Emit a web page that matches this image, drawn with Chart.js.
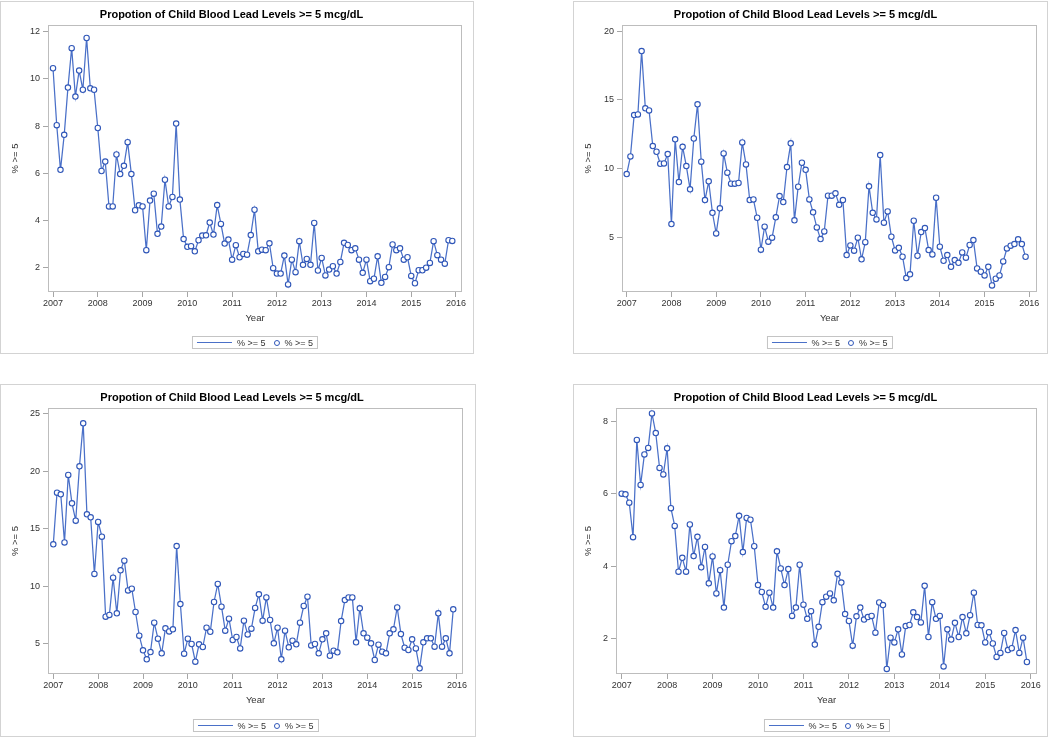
<!DOCTYPE html>
<html lang="en">
<head>
<meta charset="UTF-8">
<title>Propotion of Child Blood Lead Levels</title>
<script src="https://cdn.jsdelivr.net/npm/chart.js"></script>
<style>
    body { margin: 0; background: #fff; width: 1050px; height: 739px; position: relative; overflow: hidden;
           font-family: "Liberation Sans", Arial, sans-serif; }
    .panel { position: absolute; border: 1px solid #d3d3d3; }
    .panel canvas { position: absolute; left: 0; top: 0; }
    .legend { position: absolute; height: 11px; border: 1px solid #c4c4c4; font-size: 9px; color: #333;
              display: flex; align-items: center; padding: 0 4px; white-space: nowrap; transform: translateX(-50%); }
    .lg-line { display: inline-block; width: 35px; height: 1px; background: #4a70c8; margin-right: 5px; }
    .lg-dot { display: inline-block; width: 4px; height: 4px; border: 1.2px solid #2f56b8; border-radius: 50%;
              margin: 0 5px 0 8px; }
</style>
</head>
<body>
<div class="panel" id="p1"><canvas></canvas></div>
<div class="panel" id="p2"><canvas></canvas></div>
<div class="panel" id="p3"><canvas></canvas></div>
<div class="panel" id="p4"><canvas></canvas></div>

<script>
// monthly values, Jan 2007 .. Dec 2015
var startYear = 2007;
var yearTicks = [2007, 2008, 2009, 2010, 2011, 2012, 2013, 2014, 2015, 2016];

var pct1 = [
    10.45, 8.04, 6.15, 7.63, 9.63, 11.3, 9.25, 10.35, 9.54, 11.73, 9.6, 9.54,
    7.92, 6.1, 6.5, 4.6, 4.6, 6.8, 5.97, 6.32, 7.32, 5.97, 4.44, 4.65,
    4.6, 2.75, 4.85, 5.14, 3.44, 3.75, 5.73, 4.6, 5.0, 8.11, 4.89, 3.22,
    2.89, 2.92, 2.7, 3.17, 3.37, 3.38, 3.92, 3.41, 4.66, 3.86, 3.03, 3.2,
    2.35, 2.96, 2.45, 2.59, 2.56, 3.39, 4.46, 2.7, 2.77, 2.75, 3.04, 1.99,
    1.76, 1.76, 2.52, 1.3, 2.35, 1.82, 3.13, 2.13, 2.38, 2.13, 3.9, 1.89,
    2.42, 1.68, 1.93, 2.07, 1.76, 2.25, 3.06, 2.97, 2.75, 2.83, 2.35, 1.79,
    2.35, 1.44, 1.54, 2.49, 1.37, 1.62, 2.03, 2.99, 2.75, 2.83, 2.35, 2.45,
    1.66, 1.35, 1.9, 1.9, 2.01, 2.21, 3.13, 2.54, 2.35, 2.18, 3.17, 3.14
];
var pct2 = [
    9.62, 10.9, 13.9, 13.95, 18.55, 14.39, 14.24, 11.65, 11.24, 10.37, 10.39, 11.07,
    5.99, 12.14, 9.04, 11.6, 10.2, 8.51, 12.2, 14.68, 10.52, 7.73, 9.09, 6.81,
    5.31, 7.13, 11.12, 9.72, 8.92, 8.92, 8.97, 11.92, 10.32, 7.73, 7.78, 6.45,
    4.13, 5.8, 4.71, 5.0, 6.48, 8.02, 7.59, 10.13, 11.85, 6.26, 8.7, 10.44,
    9.93, 7.78, 6.84, 5.75, 4.9, 5.46, 8.05, 8.05, 8.22, 7.39, 7.73, 3.74,
    4.44, 4.06, 5.0, 3.43, 4.68, 8.73, 6.81, 6.33, 11.0, 6.09, 6.91, 5.07,
    4.08, 4.27, 3.62, 2.07, 2.34, 6.23, 3.69, 5.41, 5.7, 4.1, 3.79, 7.9,
    4.35, 3.33, 3.74, 2.89, 3.38, 3.18, 3.93, 3.55, 4.47, 4.83, 2.77, 2.53,
    2.26, 2.89, 1.54, 2.02, 2.26, 3.28, 4.22, 4.42, 4.54, 4.88, 4.54, 3.62
];
var pct3 = [
    13.65, 18.15, 18.0, 13.82, 19.69, 17.22, 15.71, 20.44, 24.19, 16.26, 16.0, 11.07,
    15.6, 14.32, 7.35, 7.5, 10.75, 7.64, 11.39, 12.23, 9.64, 9.79, 7.76, 5.7,
    4.42, 3.64, 4.27, 6.83, 5.44, 4.16, 6.34, 6.07, 6.25, 13.5, 8.45, 4.13,
    5.44, 4.97, 3.43, 4.94, 4.71, 6.39, 6.04, 8.63, 10.2, 8.22, 6.13, 7.18,
    5.32, 5.58, 4.59, 7.0, 5.81, 6.31, 8.11, 9.3, 7.0, 9.03, 7.06, 5.03,
    6.39, 3.64, 6.13, 4.68, 5.26, 4.94, 6.83, 8.28, 9.09, 4.85, 4.97, 4.16,
    5.38, 5.9, 3.95, 4.39, 4.25, 6.97, 8.8, 9.03, 9.03, 5.12, 8.08, 5.9,
    5.52, 5.03, 3.58, 4.91, 4.3, 4.16, 5.9, 6.25, 8.16, 5.84, 4.65, 4.45,
    5.38, 4.59, 2.85, 5.12, 5.47, 5.47, 4.74, 7.64, 4.74, 5.47, 4.16, 7.99
];
var pct4 = [
    6.0, 5.98, 5.75, 4.8, 7.48, 6.24, 7.08, 7.26, 8.21, 7.67, 6.71, 6.53,
    7.25, 5.6, 5.11, 3.85, 4.23, 3.85, 5.15, 4.28, 4.81, 3.97, 4.53, 3.53,
    4.27, 3.25, 3.89, 2.86, 4.04, 4.69, 4.83, 5.39, 4.39, 5.33, 5.28, 4.55,
    3.48, 3.29, 2.88, 3.27, 2.86, 4.41, 3.94, 3.48, 3.92, 2.63, 2.86, 4.04,
    2.94, 2.55, 2.76, 1.84, 2.33, 3.01, 3.16, 3.25, 3.06, 3.79, 3.55, 2.68,
    2.49, 1.81, 2.62, 2.86, 2.53, 2.6, 2.63, 2.17, 3.0, 2.93, 1.17, 2.03,
    1.9, 2.26, 1.57, 2.35, 2.38, 2.73, 2.6, 2.45, 3.46, 2.05, 3.01, 2.55,
    2.63, 1.24, 2.26, 1.98, 2.44, 2.05, 2.6, 2.15, 2.65, 3.27, 2.38, 2.37,
    1.9, 2.18, 1.87, 1.5, 1.61, 2.16, 1.69, 1.74, 2.24, 1.61, 2.03, 1.36
];

var yTicks1 = [2, 4, 6, 8, 10, 12];
var yTicks2 = [5, 10, 15, 20];
var yTicks3 = [5, 10, 15, 20, 25];
var yTicks4 = [2, 4, 6, 8];

var titleText = 'Propotion of Child Blood Lead Levels >= 5 mcg/dL';
var xTitle = 'Year';
var yTitle = '% >= 5';
var seriesName = '% >= 5';

// page layout: box = [left, top, width, height], area = plot rect inside the canvas
var panels = [
    { id: 'p1', box: [0, 1, 474, 353], area: [47, 23, 461, 290], xr: [2006.888, 2016.134], yr: [0.98, 12.28], values: pct1, ticks: yTicks1 },
    { id: 'p2', box: [573, 1, 475, 353], area: [48, 23, 463, 290], xr: [2006.895, 2016.172], yr: [1.06, 20.44], values: pct2, ticks: yTicks2 },
    { id: 'p3', box: [0, 384, 476, 353], area: [47, 23, 462, 289], xr: [2006.882, 2016.134], yr: [2.36, 25.52], values: pct3, ticks: yTicks3 },
    { id: 'p4', box: [573, 384, 475, 353], area: [42, 23, 463, 289], xr: [2006.875, 2016.139], yr: [1.03, 8.36], values: pct4, ticks: yTicks4 }
];

var fontFam = '"Liberation Sans", Arial, sans-serif';
var lineColor = '#4a70c8';
var markerColor = '#2f56b8';
var textColor = '#333';
var xAxisH = 32;

var framePlugin = {
    id: 'frame',
    beforeDatasetsDraw: function (chart) {
        var a = chart.chartArea, ctx = chart.ctx;
        ctx.save();
        ctx.strokeStyle = '#bdbdbd';
        ctx.lineWidth = 1;
        ctx.strokeRect(Math.round(a.left) + 0.5, Math.round(a.top) + 0.5,
                       Math.round(a.right - a.left) - 1, Math.round(a.bottom - a.top) - 1);
        ctx.restore();
    }
};

panels.forEach(function (p) {
    var wrap = document.getElementById(p.id);
    wrap.style.left = p.box[0] + 'px';
    wrap.style.top = p.box[1] + 'px';
    var cw = p.box[2] - 2, ch = p.box[3] - 2;
    wrap.style.width = cw + 'px';
    wrap.style.height = ch + 'px';
    var canvas = wrap.querySelector('canvas');
    canvas.width = cw;
    canvas.height = ch;
    var l = p.area[0], t = p.area[1], r = p.area[2], b = p.area[3];

    var points = p.values.map(function (v, i) { return { x: startYear + i / 12, y: v }; });

    new Chart(canvas, {
        type: 'line',
        data: {
            datasets: [{
                label: seriesName,
                data: points,
                borderColor: lineColor,
                borderWidth: 1.25,
                pointRadius: 2.7,
                pointBorderWidth: 1.1,
                pointBorderColor: markerColor,
                pointBackgroundColor: '#fff',
                tension: 0
            }]
        },
        options: {
            responsive: false,
            animation: false,
            layout: { padding: { left: 0, top: 0, right: cw - r, bottom: ch - b - xAxisH } },
            plugins: {
                legend: { display: false },
                tooltip: { enabled: false },
                title: {
                    display: true, text: titleText, color: '#000',
                    font: { family: fontFam, size: 11, weight: 'bold' },
                    padding: { top: 6.4, bottom: t - 6.4 - 13.2 }
                }
            },
            scales: {
                x: {
                    type: 'linear', min: p.xr[0], max: p.xr[1],
                    afterBuildTicks: function (s) { s.ticks = yearTicks.map(function (v) { return { value: v }; }); },
                    afterFit: function (s) { s.height = xAxisH; },
                    border: { display: false },
                    grid: { drawOnChartArea: false, drawTicks: true, tickLength: 5, tickColor: '#a6a6a6' },
                    ticks: { padding: 1, color: textColor, maxRotation: 0, autoSkip: false,
                             font: { family: fontFam, size: 9 }, callback: function (v) { return String(v); } },
                    title: { display: true, text: xTitle, color: textColor,
                             font: { family: fontFam, size: 9.5 }, padding: { top: 0, bottom: 0 } }
                },
                y: {
                    min: p.yr[0], max: p.yr[1],
                    afterBuildTicks: function (s) { s.ticks = p.ticks.map(function (v) { return { value: v }; }); },
                    afterFit: function (s) { s.width = l; },
                    border: { display: false },
                    grid: { drawOnChartArea: false, drawTicks: true, tickLength: 5, tickColor: '#a6a6a6' },
                    ticks: { padding: 3, color: textColor, font: { family: fontFam, size: 9 },
                             callback: function (v) { return String(v); } },
                    title: { display: true, text: yTitle, color: textColor,
                             font: { family: fontFam, size: 9.5 }, padding: { top: 8.3, bottom: 0 } }
                }
            }
        },
        plugins: [framePlugin]
    });

    var lg = document.createElement('div');
    lg.className = 'legend';
    lg.style.left = ((l + r) / 2) + 'px';
    lg.style.top = '334px';
    lg.innerHTML = '<span class="lg-line"></span><span>' + seriesName + '</span>' +
                   '<span class="lg-dot"></span><span>' + seriesName + '</span>';
    wrap.appendChild(lg);
});
</script>
</body>
</html>
